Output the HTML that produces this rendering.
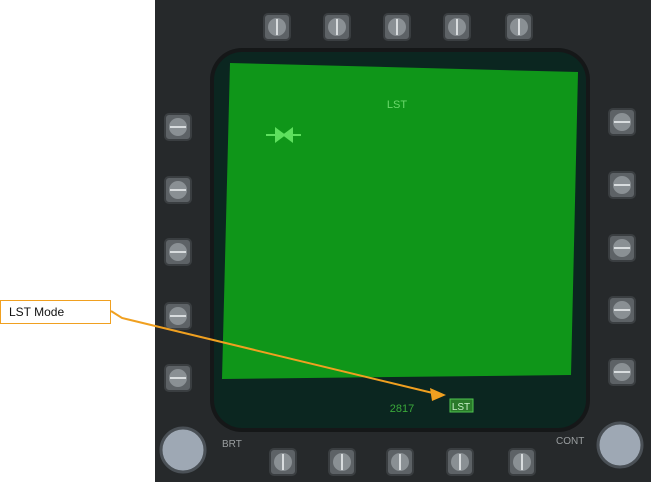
<!DOCTYPE html>
<html><head><meta charset="utf-8"><style>
body{margin:0;width:651px;height:482px;overflow:hidden;background:#fff;font-family:"Liberation Sans",sans-serif;position:relative}
.btn{position:absolute;width:28px;height:28px;background:#5d6266;border:2px solid #3a3e41;border-radius:5px;box-sizing:border-box}
.btn .f{position:absolute;left:3px;top:3px;width:18px;height:18px;border-radius:50%;background:#8a9094}
.btn .l{position:absolute;background:#d8dcde}
.v .l{left:11px;top:4px;width:2px;height:16px}
.h .l{top:11px;left:4px;height:2px;width:16px}
</style></head><body>
<div style="position:absolute;left:155px;top:0;width:496px;height:482px;background:#26292b"></div>
<div style="position:absolute;left:214px;top:52px;width:372px;height:376px;background:#0b2620;border-radius:28px;box-shadow:0 0 0 4px #151718"></div>
<svg width="651" height="482" style="position:absolute;left:0;top:0">
<polygon points="230,63 578,72 571,375 222,379" fill="#0f9619"/>
<text x="397" y="108" fill="#6bd86b" font-size="11" text-anchor="middle" font-family="Liberation Sans">LST</text>
<g stroke="#5ee05e" stroke-width="2" fill="#5ee05e">
<line x1="266" y1="135" x2="301" y2="135"/><polygon points="276,129 284,135 276,141"/><polygon points="292,129 284,135 292,141"/></g>
<text x="402" y="412" fill="#3aa83a" font-size="11" text-anchor="middle">2817</text>
<rect x="450" y="399" width="23" height="13" fill="#2a7a2a" stroke="#4fc44f"/>
<text x="461" y="410" fill="#c8f0c8" font-size="10" text-anchor="middle">LST</text>
<text x="222" y="447" fill="#9a9ea0" font-size="10">BRT</text>
<text x="556" y="444" fill="#9a9ea0" font-size="10">CONT</text>
<circle cx="183" cy="450" r="22" fill="#9ea8b4" stroke="#4a5056" stroke-width="3"/>
<circle cx="620" cy="445" r="22" fill="#9ea8b4" stroke="#4a5056" stroke-width="3"/>
</svg>
<div id="btns"></div>
<svg width="651" height="482" style="position:absolute;left:0;top:0">
<polyline points="111,311 122,318 437,394" fill="none" stroke="#f0a020" stroke-width="2"/>
<polygon points="446,395 430,388 432,401" fill="#f0a020"/>
</svg>
<div style="position:absolute;left:0;top:300px;width:111px;height:24px;box-sizing:border-box;border:1px solid #f0a020;background:#fff;font-size:12px;padding:4px 8px;color:#111">LST Mode</div>
<script>
const tops=[277,337,397,457,519],bots=[283,342,400,460,522],lefts=[127,190,252,316,378],rights=[122,185,248,310,372];
const c=document.getElementById('btns');
function mk(x,y,cls,name){const d=document.createElement('div');d.className='btn '+cls;d.style.left=(x-14)+'px';d.style.top=(y-14)+'px';d.innerHTML='<div class="f"></div><div class="l"></div>';


c.appendChild(d);}
tops.forEach((x,i)=>mk(x,27,'v','top-button-'+(i+1)));
bots.forEach((x,i)=>mk(x,462,'v','bottom-button-'+(i+1)));
lefts.forEach((y,i)=>mk(178,y,'h','left-button-'+(i+1)));
rights.forEach((y,i)=>mk(622,y,'h','right-button-'+(i+1)));
</script>
</body></html>
